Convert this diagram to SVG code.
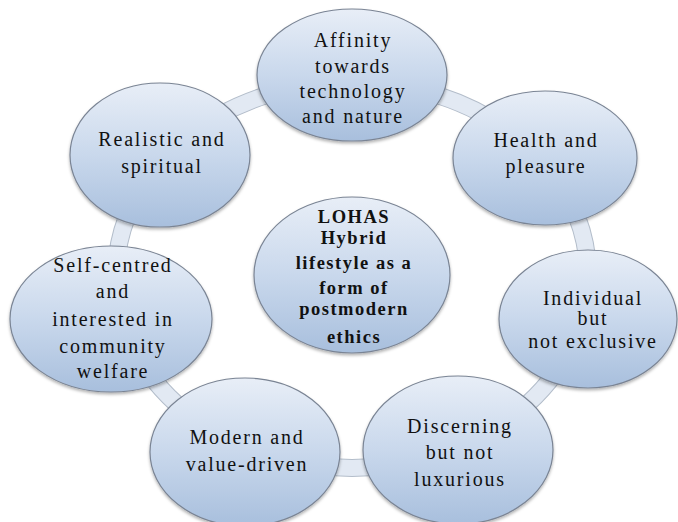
<svg xmlns="http://www.w3.org/2000/svg" width="678" height="522" viewBox="0 0 678 522">
<defs>
<linearGradient id="g" x1="0" y1="0" x2="0" y2="1">
<stop offset="0" stop-color="#e8eef7"/>
<stop offset="0.5" stop-color="#c9d8ec"/>
<stop offset="1" stop-color="#a8bfdd"/>
</linearGradient>
<filter id="sh" x="-10%" y="-10%" width="120%" height="125%">
<feDropShadow dx="0" dy="2" stdDeviation="1.5" flood-color="#000" flood-opacity="0.3"/>
</filter>
</defs>
<style>
.c{fill:url(#g);stroke:#7a8494;stroke-width:1.2;filter:url(#sh)}
text{font-family:"Liberation Serif","Times New Roman",serif;font-size:20px;fill:#111;text-anchor:middle;letter-spacing:1.8px}
.b{font-weight:bold;font-size:18.5px;letter-spacing:1.5px}
</style>
<rect width="678" height="522" fill="#fff"/>
<g id="connectors">
<ellipse cx="352" cy="275" rx="236" ry="193" fill="none" stroke="#b3bdca" stroke-width="18"/>
<ellipse cx="352" cy="275" rx="236" ry="193" fill="none" stroke="#e2e9f3" stroke-width="16"/>
</g>
<g id="n-affinity">
<ellipse class="c" cx="352" cy="75" rx="95" ry="66"/>
<text x="353" y="47">Affinity</text>
<text x="353" y="73">towards</text>
<text x="353" y="98">technology</text>
<text x="353" y="123">and nature</text>
</g>
<g id="n-health">
<ellipse class="c" cx="545" cy="158" rx="92" ry="67"/>
<text x="546" y="147">Health and</text>
<text x="546" y="173">pleasure</text>
</g>
<g id="n-individual">
<ellipse class="c" cx="588" cy="319" rx="89" ry="69"/>
<text x="593" y="305">Individual</text>
<text x="593" y="325">but</text>
<text x="593" y="348">not exclusive</text>
</g>
<g id="n-discerning">
<ellipse class="c" cx="458" cy="450" rx="95" ry="74"/>
<text x="460" y="433">Discerning</text>
<text x="460" y="459">but not</text>
<text x="460" y="486">luxurious</text>
</g>
<g id="n-modern">
<ellipse class="c" cx="245" cy="452" rx="95" ry="74"/>
<text x="247" y="444">Modern and</text>
<text x="247" y="471">value-driven</text>
</g>
<g id="n-self">
<ellipse class="c" cx="111" cy="319" rx="101" ry="73"/>
<text x="113" y="272">Self-centred</text>
<text x="113" y="298">and</text>
<text x="113" y="326">interested in</text>
<text x="113" y="353">community</text>
<text x="113" y="378">welfare</text>
</g>
<g id="n-realistic">
<ellipse class="c" cx="160" cy="155" rx="90" ry="72"/>
<text x="162" y="146">Realistic and</text>
<text x="162" y="173">spiritual</text>
</g>
<g id="n-center">
<ellipse class="c" cx="352" cy="275" rx="98" ry="78"/>
<text class="b" x="354" y="223">LOHAS</text>
<text class="b" x="354" y="244">Hybrid</text>
<text class="b" x="354" y="269">lifestyle as a</text>
<text class="b" x="354" y="294">form of</text>
<text class="b" x="354" y="315">postmodern</text>
<text class="b" x="354" y="343">ethics</text>
</g>
</svg>
